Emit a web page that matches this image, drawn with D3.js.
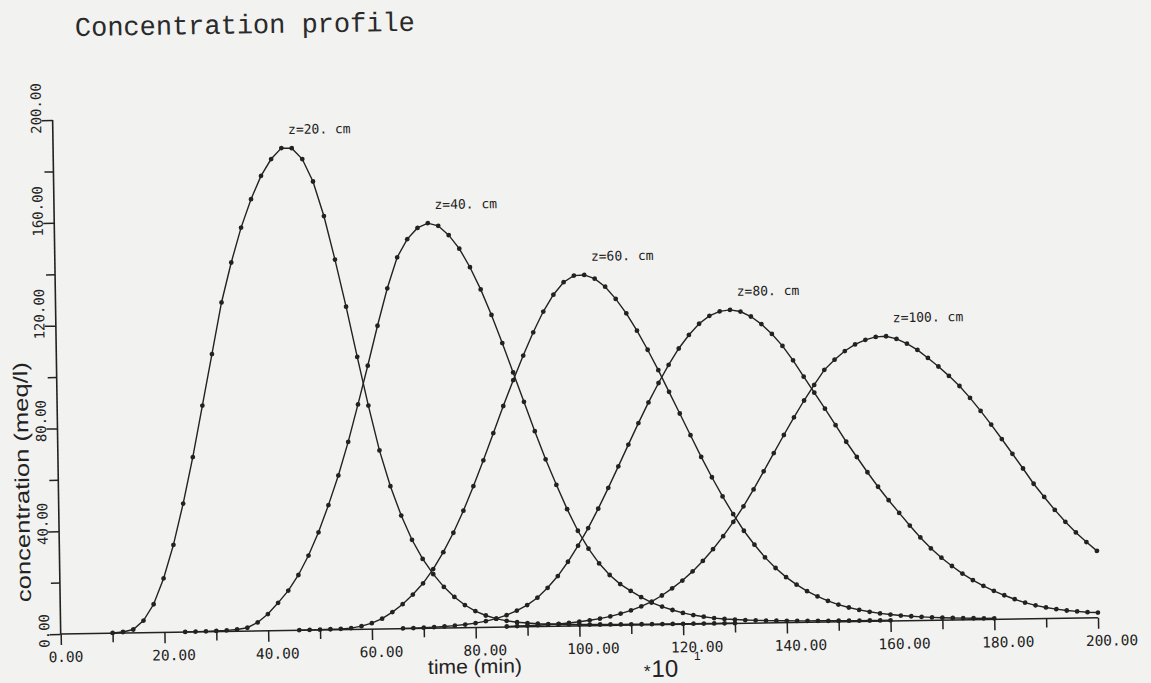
<!DOCTYPE html>
<html>
<head>
<meta charset="utf-8">
<script src="https://cdn.jsdelivr.net/npm/d3@7"></script>
<style>
  html, body { margin: 0; padding: 0; background: #f2f2f0; }
  svg { display: block; }
</style>
</head>
<body>
<svg id="chart" width="1151" height="683"></svg>
<script>
// Concentration (meq/l) sampled every 2 time units (x10 min) at five depths.
const seriesNames = ["z=20. cm", "z=40. cm", "z=60. cm", "z=80. cm", "z=100. cm"];
const seriesStart = [10, 24, 46, 66, 86];
const timeStep = 2;

const conc20 = [0.1, 0.4, 1.3, 4.7, 11, 21, 34, 50, 68, 88, 108, 128, 143.5, 157, 168, 177, 183.5, 187.7,
  187.6, 183.3, 174.5, 161, 144, 125.6, 106, 87, 69.5, 55.5, 44, 34.5, 27, 21, 16, 12, 8.8, 6.4, 4.6, 3.3,
  2.4, 1.8, 1.4, 1.1, 0.9, 0.75, 0.6, 0.5, 0.45, 0.4, 0.35, 0.3, 0.28, 0.25, 0.22, 0.2, 0.18, 0.16, 0.14,
  0.13, 0.12, 0.11, 0.1];
const conc40 = [0.05, 0.1, 0.15, 0.25, 0.4, 0.7, 1.3, 3.3, 6.5, 10.8, 15.5, 21.5, 29, 38, 48.5, 60, 73, 87.5,
  102.5, 118, 132.5, 144.5, 151.5, 155.8, 157.6, 156.5, 152.8, 147.5, 140.2, 131.5, 121.5, 110.5, 99, 87.5,
  76, 65, 55, 45.5, 37, 30, 24.2, 19.6, 16, 13.3, 10.8, 8.6, 7, 5.6, 4.4, 3.5, 2.8, 2.2, 1.8, 1.5, 1.25,
  1.05, 0.9, 0.8, 0.7, 0.6, 0.55, 0.5, 0.45, 0.4, 0.36, 0.33, 0.3, 0.27, 0.25];
const conc60 = [0.05, 0.08, 0.12, 0.2, 0.3, 0.5, 1.2, 2.3, 4, 6.5, 9.5, 13.2, 17.5, 23, 29.5, 37, 45.5, 55,
  65, 75.5, 86, 96, 105.5, 114.5, 122.5, 129, 133.8, 136.3, 136.5, 135, 131.8, 127, 121.3, 114.5, 107, 99,
  90.5, 82, 73.5, 65, 57, 49.5, 42.5, 36, 30.5, 25.5, 21.3, 17.7, 14.7, 12.1, 10, 8.2, 6.7, 5.5, 4.5, 3.7,
  3, 2.5, 2.05, 1.7, 1.4, 1.15, 0.95, 0.8, 0.65, 0.55, 0.45, 0.4];
const conc80 = [0.1, 0.15, 0.25, 0.4, 0.6, 0.85, 1.2, 1.7, 2.4, 3.3, 4.6, 6.3, 8.4, 11.2, 15, 19.5, 25, 31.2,
  38, 45.5, 53.5, 61.8, 70.2, 78.5, 86.5, 94, 101, 107.3, 112.5, 116.8, 119.8, 121.5, 122, 121.3, 119.3,
  116.3, 112.4, 107.7, 102, 95.6, 89.3, 83, 76.5, 70, 64, 58, 52.3, 47, 42, 37, 32.3, 28, 24.3, 21, 18,
  15.4, 13.1, 11.1, 9.3, 7.7, 6.3, 5.2, 4.3, 3.6, 3, 2.6, 2.2, 2];
const conc100 = [0.2, 0.3, 0.4, 0.5, 0.7, 0.9, 1.2, 1.6, 2.1, 2.7, 3.5, 4.5, 5.7, 7.2, 9, 11.3, 14, 17, 20.5,
  24.5, 29, 34, 39.5, 45.5, 52, 59, 66, 73, 79.8, 86.3, 92.3, 98.1, 102, 105.3, 107.8, 109.5, 110.6, 110.8,
  109.7, 107.8, 105.3, 102.1, 98.7, 95, 91, 86.3, 81.2, 75.8, 70.1, 64.3, 58.5, 52.5, 47.3, 42.2, 37.5,
  33.3, 29.5, 26];

const xTickValues = [0, 20, 40, 60, 80, 100, 120, 140, 160, 180, 200];
const xTickLabels = ["0.00", "20.00", "40.00", "60.00", "80.00", "100.00", "120.00", "140.00", "160.00", "180.00", "200.00"];
const xMinorTicks = [10, 30, 50, 70, 90, 110, 130, 150, 170, 190];
const yTickValues = [0, 40, 80, 120, 160, 200];
const yTickLabels = ["0.00", "40.00", "80.00", "120.00", "160.00", "200.00"];
const yMinorTicks = [20, 60, 100, 140, 180];

const titleText = "Concentration profile";
const xTitle = "time (min)";
const yTitle = "concentration (meq/l)";
const xMultiplier = "10";
const xExponent = "1";

// ---- layout ----
const ink = "#222222";
const origin = { x: 60.7, y: 634 };
const plotW = 1037.4, plotH = 514;
const tilt = -0.9;           // the whole sheet sits slightly askew
const monoFont = "'DejaVu Sans Mono', monospace";
const sansFont = "'Liberation Sans', Arial, sans-serif";

const svg = d3.select("#chart");
svg.append("rect").attr("width", 1151).attr("height", 683).attr("fill", "#f2f2f0");

const x = d3.scaleLinear().domain([0, 200]).range([0, plotW]);
const y = d3.scaleLinear().domain([0, 200]).range([0, -plotH]);
const yAxisScale = d3.scaleLinear().domain([0, 200]).range([plotH, 0]);

const plot = svg.append("g")
  .attr("transform", `translate(${origin.x},${origin.y}) rotate(${tilt})`);

// minor ticks
plot.append("g")
  .call(d3.axisBottom(x).tickValues(xMinorTicks).tickSize(9).tickFormat(""))
  .call(g => g.select(".domain").remove());
plot.append("g")
  .attr("transform", `translate(0,${-plotH})`)
  .call(d3.axisLeft(yAxisScale).tickValues(yMinorTicks).tickSize(9).tickFormat(""))
  .call(g => g.select(".domain").remove());

// major ticks with labels
const xAxisG = plot.append("g")
  .call(d3.axisBottom(x).tickValues(xTickValues).tickSize(11)
    .tickFormat((d, i) => xTickLabels[i]))
  .call(g => g.select(".domain").remove());
xAxisG.selectAll("text")
  .attr("text-anchor", "start")
  .attr("x", -13).attr("y", 28).attr("dy", 0)
  .attr("font-family", monoFont).attr("font-size", 14.5);

const yAxisG = plot.append("g")
  .attr("transform", `translate(0,${-plotH})`)
  .call(d3.axisLeft(yAxisScale).tickValues(yTickValues).tickSize(11)
    .tickFormat((d, i) => yTickLabels[i]))
  .call(g => g.select(".domain").remove());
yAxisG.selectAll("text")
  .attr("text-anchor", "start")
  .attr("x", 0).attr("y", 0).attr("dy", 0)
  .attr("transform", "translate(-11.5,13) rotate(-90)")
  .attr("font-family", monoFont).attr("font-size", 14);

plot.selectAll(".tick line").attr("stroke", ink).attr("stroke-width", 1.5);
plot.selectAll(".tick text").attr("fill", ink);

// axis lines
plot.append("line").attr("x1", x(0)).attr("x2", x(200)).attr("y1", 0).attr("y2", 0)
  .attr("stroke", ink).attr("stroke-width", 1.6);
plot.append("line").attr("x1", 0).attr("x2", 0).attr("y1", y(0)).attr("y2", y(200))
  .attr("stroke", ink).attr("stroke-width", 1.6);

// curves
const allSeries = [conc20, conc40, conc60, conc80, conc100].map((vals, i) => ({
  name: seriesNames[i],
  points: vals.map((v, k) => ({ t: seriesStart[i] + k * timeStep, c: v }))
}));

const line = d3.line().x(d => x(d.t)).y(d => y(d.c));

const curves = plot.append("g");
allSeries.forEach(s => {
  curves.append("path")
    .datum(s.points)
    .attr("d", line)
    .attr("fill", "none")
    .attr("stroke", ink)
    .attr("stroke-width", 1.4);
  curves.append("g").selectAll("circle")
    .data(s.points)
    .join("circle")
    .attr("cx", d => x(d.t))
    .attr("cy", d => y(d.c))
    .attr("r", 2.4)
    .attr("fill", ink);
  // name placed just above the crest of each curve
  const top = s.points.reduce((a, b) => (b.c > a.c ? b : a));
  plot.append("text")
    .attr("x", x(top.t) + 7)
    .attr("y", y(top.c) - 14)
    .attr("font-family", monoFont)
    .attr("font-size", 13)
    .attr("fill", ink)
    .text(s.name);
});

// titles (page coordinates, same slight skew)
function skewText(px, py) { return `rotate(${tilt},${px},${py})`; }

svg.append("text")
  .attr("x", 75).attr("y", 36)
  .attr("transform", skewText(75, 36))
  .attr("font-family", "'Liberation Mono', 'Courier New', monospace")
  .attr("font-size", 27)
  .attr("textLength", 340).attr("lengthAdjust", "spacingAndGlyphs")
  .attr("fill", "#2a2a2a")
  .text(titleText);

svg.append("text")
  .attr("transform", `translate(29,482) rotate(${-90 + tilt})`)
  .attr("text-anchor", "middle")
  .attr("font-family", sansFont)
  .attr("font-size", 20)
  .attr("textLength", 240).attr("lengthAdjust", "spacingAndGlyphs")
  .attr("fill", ink)
  .text(yTitle);

svg.append("text")
  .attr("x", 428).attr("y", 674)
  .attr("transform", skewText(428, 674))
  .attr("font-family", sansFont)
  .attr("font-size", 20)
  .attr("textLength", 94).attr("lengthAdjust", "spacingAndGlyphs")
  .attr("fill", ink)
  .text(xTitle);

const mult = svg.append("text")
  .attr("x", 644).attr("y", 677)
  .attr("transform", skewText(644, 677))
  .attr("font-family", sansFont)
  .attr("fill", ink);
mult.append("tspan").attr("font-size", 17).text("*");
mult.append("tspan").attr("font-size", 24).attr("dx", 1).text(xMultiplier);

svg.append("text")
  .attr("x", 694).attr("y", 660)
  .attr("transform", skewText(694, 660))
  .attr("font-family", sansFont)
  .attr("font-size", 12)
  .attr("fill", ink)
  .text(xExponent);
</script>
</body>
</html>
